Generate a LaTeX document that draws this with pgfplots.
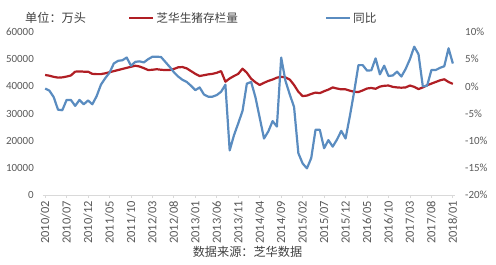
\documentclass[border=0pt]{standalone}
\usepackage{pgfplots}
\pgfplotsset{compat=1.18}
\usepackage{pgfplotstable}
\usepackage{fontspec}
\setmainfont{Carlito}
\newfontfamily\cjk{Noto Sans CJK SC}
\newfontfamily\carlito{Carlito}
\definecolor{redline}{HTML}{B01E24}
\definecolor{blueline}{HTML}{5A8CC0}
\definecolor{ticktext}{HTML}{595959}
\definecolor{cjktext}{HTML}{404040}
\definecolor{axisgray}{HTML}{D9D9D9}

\pgfplotstableread{
i stock yoy
0 44200 -0.4
1 43900 -0.8
2 43500 -2.0
3 43200 -4.3
4 43300 -4.4
5 43600 -2.5
6 44000 -2.5
7 45400 -3.6
8 45500 -2.5
9 45400 -3.3
10 45400 -2.6
11 44600 -3.3
12 44500 -1.8
13 44500 0.3
14 44800 1.5
15 45200 2.5
16 45600 4.2
17 46000 4.7
18 46400 4.8
19 46800 5.3
20 47200 3.8
21 47600 4.5
22 47300 4.6
23 46700 4.4
24 46000 5.0
25 46100 5.45
26 46300 5.45
27 46100 5.4
28 46000 4.5
29 46000 3.6
30 46400 2.6
31 47000 1.8
32 47100 1.2
33 46600 0.8
34 45600 0.1
35 44600 -0.7
36 43800 -0.2
37 44100 -1.5
38 44400 -1.9
39 44600 -1.9
40 45000 -1.6
41 45600 -1.0
42 41700 0.3
43 42900 -11.8
44 43800 -9.0
45 44600 -6.8
46 46500 -4.5
47 45000 0.5
48 42800 0.8
49 41500 -2.0
50 40500 -5.8
51 41300 -9.6
52 42000 -8.3
53 42500 -6.4
54 43200 -7.4
55 43500 5.3
56 43300 1.0
57 42500 -1.5
58 40500 -3.8
59 38000 -12.3
60 36400 -14.2
61 36600 -15.1
62 37200 -13.2
63 37700 -8.0
64 37500 -8.0
65 38200 -11.4
66 38800 -9.9
67 39600 -11.1
68 39200 -9.8
69 38900 -8.2
70 38900 -9.6
71 38400 -5.5
72 38000 -1.0
73 37900 3.9
74 38500 3.9
75 39200 2.9
76 39400 2.95
77 39100 5.15
78 39900 2.2
79 40200 3.8
80 40300 1.9
81 39800 2.0
82 39600 2.7
83 39500 1.8
84 39600 3.2
85 40300 5.0
86 39800 7.3
87 39000 5.9
88 39600 0.0
89 40400 0.1
90 41000 3.0
91 41600 3.0
92 42200 3.4
93 42600 3.7
94 41600 7.0
95 40900 4.2
}\datatable

\begin{document}
\begin{tikzpicture}
\path[use as bounding box] (0,0) rectangle (496bp,265bp);

\begin{axis}[
  at={(43bp,70bp)}, anchor=south west,
  scale only axis, width=412bp, height=163bp,
  xmin=-0.5, xmax=95.5,
  ymin=0, ymax=60000,
  ytick={0,10000,...,60000},
  scaled y ticks=false,
  /pgf/number format/assume math mode=true,
  /pgf/number format/set thousands separator={},
  xtick={0,5,...,95},
  xticklabels={2010/02,2010/07,2010/12,2011/05,2011/10,2012/03,2012/08,2013/01,2013/06,2013/11,2014/04,2014/09,2015/02,2015/07,2015/12,2016/05,2016/10,2017/03,2017/08,2018/01},
  xticklabel style={rotate=90, anchor=east, font=\carlito\fontsize{12.5}{13}\selectfont, text=ticktext, inner sep=1bp, yshift=0bp, xshift=-2bp},
  yticklabel style={font=\carlito\fontsize{11}{12}\selectfont, text=ticktext, anchor=east, inner sep=0pt, xshift=-6bp},
  axis x line*=bottom, axis y line*=left,
  x axis line style={axisgray, line width=0.8bp},
  y axis line style={draw=none},
  xtick style={axisgray, line width=0.8bp},
  ytick style={draw=none},
  tick align=outside,
  major tick length=3bp,
  legend columns=2,
  legend style={at={(0.2065,1.085)}, anchor=west, draw=none, fill=none,
    font=\cjk\fontsize{11.7}{12}\selectfont, text=cjktext, inner sep=0pt,
    /tikz/every even column/.append style={column sep=85bp}},
  legend image code/.code={\draw[#1] (0bp,0bp) -- (24bp,0bp);},
]
\addplot[redline, line width=2.2bp, line join=round] table[x=i, y=stock] {\datatable};
\addlegendentry{芝华生猪存栏量}
\addlegendimage{blueline, line width=2.2bp}
\addlegendentry{同比}
\end{axis}

\begin{axis}[
  at={(43bp,70bp)}, anchor=south west,
  scale only axis, width=412bp, height=163bp,
  xmin=-0.5, xmax=95.5,
  ymin=-20, ymax=10,
  ytick={-20,-15,...,10},
  axis x line=none,
  axis y line*=right,
  y axis line style={draw=none},
  ytick style={draw=none},
  /pgf/number format/assume math mode=true,
  yticklabel={\pgfmathprintnumber{\tick}\%},
  yticklabel style={font=\carlito\fontsize{11}{12}\selectfont, text=ticktext, anchor=west, inner sep=0pt, xshift=10bp},
]
\addplot[blueline, line width=2.2bp, line join=round] table[x=i, y=yoy] {\datatable};
\end{axis}

\node[anchor=west, inner sep=0pt, text=cjktext, font=\cjk\fontsize{12.2}{13}\selectfont] at (25bp,247bp) {单位：万头};
\node[inner sep=0pt, text=cjktext, font=\cjk\fontsize{12.2}{13}\selectfont] at (247.5bp,13bp) {数据来源：芝华数据};
\end{tikzpicture}
\end{document}
